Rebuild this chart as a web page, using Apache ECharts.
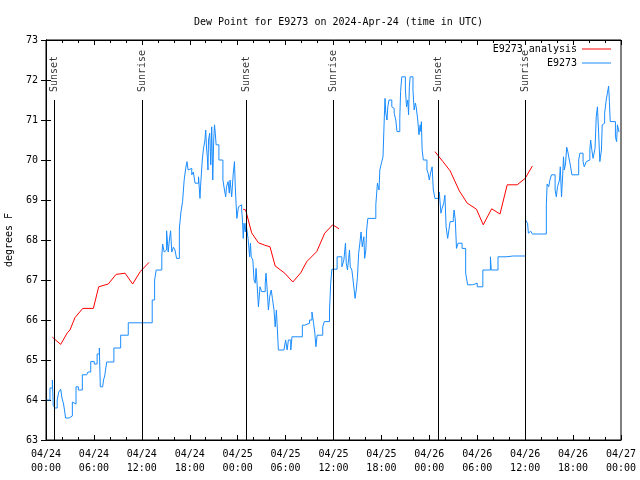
<!DOCTYPE html>
<html><head><meta charset="utf-8">
<script src="https://cdn.jsdelivr.net/npm/echarts@6/dist/echarts.min.js"></script>
<style>html,body{margin:0;padding:0;background:#fff}#c{width:640px;height:480px}</style>
</head><body><div id="c"></div>
<script>
// hours since 2024-04-24 00:00 UTC
var obsTimes = [0.1,0.5,0.8,0.9,1.1,1.4,1.6,1.84,2.0,2.2,2.35,2.45,2.9,3.3,3.45,3.76,4.05,4.55,5.1,5.25,5.6,6.05,6.4,6.68,6.8,7.1,7.2,7.35,7.6,8.5,9.35,10.3,13.3,13.6,13.8,14.5,14.6,14.8,15.0,15.1,15.3,15.45,15.6,15.75,15.95,16.15,16.35,16.7,16.9,17.1,17.3,17.5,17.65,17.8,18.0,18.25,18.45,18.66,19.1,19.28,19.35,19.57,19.7,19.9,20.0,20.1,20.2,20.28,20.35,20.5,20.63,20.75,20.88,21.0,21.1,21.2,21.3,21.65,22.15,22.35,22.5,22.6,22.8,22.95,23.05,23.25,23.45,23.6,23.7,23.8,23.9,24.1,24.35,24.5,24.6,24.7,24.8,24.95,25.05,25.15,25.3,25.5,25.6,25.7,25.9,26.05,26.2,26.3,26.4,26.6,26.8,27.0,27.45,27.55,27.7,27.85,28.0,28.2,28.35,28.55,28.7,28.85,29.1,29.8,30.0,30.2,30.35,30.65,30.8,32.1,32.4,33.0,33.3,33.5,33.65,33.8,33.95,34.65,34.85,35.5,35.65,35.8,36.45,37.05,37.3,37.5,37.6,37.75,37.9,38.0,38.1,38.3,38.45,38.7,38.85,39.0,39.15,39.3,39.45,39.6,39.8,39.9,40.05,40.15,40.3,41.3,41.5,41.7,41.8,42.0,42.2,42.35,42.45,42.55,42.7,42.8,42.95,43.3,43.5,43.6,43.8,43.95,44.3,44.4,44.55,45.0,45.15,45.3,45.4,45.5,45.6,45.95,46.1,46.25,46.35,46.55,46.7,46.85,46.95,47.0,47.1,47.25,47.7,47.85,48.0,48.15,48.35,48.5,48.7,49.25,49.45,49.6,49.8,49.95,50.1,50.3,50.45,50.6,51.0,51.1,51.25,51.4,51.6,52.1,52.55,52.8,53.4,53.5,54.0,54.7,55.65,55.75,56.6,57.6,58.5,58.65,60.05,60.3,60.4,60.55,60.7,60.9,62.65,62.75,62.95,63.1,63.3,63.75,63.9,64.05,64.3,64.4,64.55,64.7,64.8,64.9,65.05,65.2,65.35,65.45,65.65,65.85,66.7,66.85,67.25,67.4,67.65,67.85,68.1,68.2,68.35,68.5,68.75,68.9,69.05,69.2,69.35,69.55,69.65,69.85,69.95,70.15,70.3,70.45,70.55,70.65,71.3,71.45,71.55,71.75];
var obsValues = [64.0,64.3,64.5,63.87,63.8,64.0,64.2,64.27,64.05,63.9,63.7,63.55,63.6,63.95,63.9,64.33,64.25,64.63,64.6,64.7,64.96,64.9,65.15,65.3,64.33,64.33,64.5,64.6,64.95,65.3,65.62,65.93,66.5,67.0,67.25,67.6,67.9,67.7,67.75,68.23,67.7,68.0,68.23,67.7,67.82,67.75,67.54,68.3,68.7,68.96,69.5,69.8,69.96,69.75,69.79,69.63,69.7,69.42,69.58,69.04,69.33,70.0,70.25,70.5,70.75,70.3,70.08,69.75,70.5,70.67,69.88,70.83,69.5,70.5,70.88,70.67,70.38,70.0,69.5,69.25,69.08,69.33,69.46,69.17,69.5,69.08,69.67,69.96,69.33,68.92,68.54,68.83,68.88,68.75,68.5,68.04,68.42,68.2,68.42,68.25,68.04,67.58,67.92,67.58,67.5,67.0,66.92,67.29,67.0,66.33,66.83,66.71,66.92,67.17,66.75,66.25,66.58,66.75,66.54,66.25,65.83,66.25,65.25,65.3,65.5,65.25,65.5,65.25,65.58,65.87,65.92,66.0,66.2,65.92,65.7,65.33,65.62,65.83,65.96,66.25,66.92,67.27,67.58,67.33,67.5,67.92,67.42,67.25,67.54,67.75,67.33,67.25,67.0,66.54,66.75,67.08,67.67,67.92,68.2,67.83,68.08,67.54,67.75,68.25,68.54,68.88,69.42,69.25,69.75,69.92,70.08,71.0,71.54,71.17,71.0,71.33,71.5,71.33,71.29,71.17,71.0,70.71,71.04,71.71,72.08,71.75,71.33,71.5,71.13,71.83,72.08,71.75,71.25,71.42,71.33,71.0,70.63,70.88,70.71,70.96,70.25,70.0,69.75,69.67,69.5,69.67,69.83,69.25,69.04,69.2,68.67,68.79,68.92,69.12,68.33,68.04,68.25,68.46,68.54,68.75,68.5,67.79,67.92,67.79,67.17,66.88,66.83,66.92,66.83,67.25,67.58,67.25,67.58,67.6,67.55,67.6,68.5,68.42,68.17,68.22,68.25,68.15,68.88,69.4,69.33,69.5,69.63,69.25,69.08,69.33,69.5,69.83,69.08,69.63,70.08,69.75,69.9,70.32,70.2,70.08,69.88,69.63,70.0,70.17,69.96,69.83,69.96,70.0,70.25,70.5,70.25,70.04,70.29,71.08,71.33,70.67,69.96,70.25,70.88,70.92,71.17,71.5,71.67,71.85,71.46,70.96,70.58,70.46,70.88,70.7];

var analysisTimes1 = [0.8,1.84,2.67,3.0,3.63,4.6,5.93,6.6,7.8,8.77,9.9,10.85,11.8,12.9];
var analysisValues1 = [65.57,65.39,65.68,65.75,66.06,66.29,66.29,66.83,66.9,67.14,67.17,66.9,67.21,67.44];
var analysisTimes2 = [24.7,25.0,25.75,26.6,27.4,28.05,28.7,29.9,30.9,31.9,32.65,33.9,34.9,35.9,36.7];
var analysisValues2 = [68.77,68.75,68.18,67.93,67.87,67.83,67.35,67.17,66.95,67.18,67.46,67.71,68.17,68.38,68.28];
var analysisTimes3 = [48.7,49.7,50.6,51.75,52.75,53.9,54.75,55.8,56.85,57.75,59.0,60.0,60.9];
var analysisValues3 = [70.21,69.96,69.73,69.23,68.92,68.77,68.38,68.78,68.65,69.38,69.38,69.54,69.85];

var sunTimes = [1.05,12.1,25.05,35.95,49.1,60.0];
var sunLabels = ['Sunset','Sunrise','Sunset','Sunrise','Sunset','Sunrise'];

var FONT = '"DejaVu Sans Mono", monospace';
var SUN_TOP = 71.5;

function zip(t, v){ return t.map(function(x,i){ return [x, v[i]]; }); }
var obsData = zip(obsTimes, obsValues);
var anaData = zip(analysisTimes1, analysisValues1)
  .concat([[18, null]])
  .concat(zip(analysisTimes2, analysisValues2))
  .concat([[42, null]])
  .concat(zip(analysisTimes3, analysisValues3));

function xLabel(v){
  var d = 24 + Math.floor(v / 24);
  var h = v % 24;
  return '04/' + d + '\n' + (h < 10 ? '0' : '') + h + ':00';
}

var chart = echarts.init(document.getElementById('c'), null, {renderer:'canvas'});
chart.setOption({
  animation: false,
  backgroundColor: '#fff',
  title: { text: 'Dew Point for E9273 on 2024-Apr-24 (time in UTC)', left: 189, top: 12,
    textStyle: { fontFamily: FONT, fontSize: 10, fontWeight: 'normal', color: '#000' } },
  legend: [
    { data: ['E9273 analysis'], right: 29, top: 44, padding: 0, align: 'right', icon: 'rect', itemWidth: 29, itemHeight: 1,
      textStyle: { fontFamily: FONT, fontSize: 10, color: '#000' } },
    { data: ['E9273'], right: 29, top: 58, padding: 0, align: 'right', icon: 'rect', itemWidth: 29, itemHeight: 1,
      textStyle: { fontFamily: FONT, fontSize: 10, color: '#000' } }
  ],
  grid: { left: 46, right: 19, top: 40, bottom: 40, show: true, borderColor: '#000', borderWidth: 1,
    containLabel: false, outerBoundsMode: 'none' },
  xAxis: [
    { type: 'value', min: 0, max: 72, interval: 6, position: 'bottom',
      axisLine: { show: true, lineStyle: { color: '#000' } },
      axisTick: { show: true, inside: true, length: 5, lineStyle: { color: '#000' } },
      minorTick: { show: true, splitNumber: 3, length: 3, lineStyle: { color: '#000' } },
      splitLine: { show: false },
      axisLabel: { formatter: xLabel, fontFamily: FONT, fontSize: 10, color: '#000', lineHeight: 14, margin: 7, showMinLabel: true, showMaxLabel: true } },
    { type: 'value', min: 0, max: 72, interval: 6, position: 'top',
      axisLine: { show: true, lineStyle: { color: '#000' } },
      axisTick: { show: true, inside: true, length: 5, lineStyle: { color: '#000' } },
      minorTick: { show: true, splitNumber: 3, length: 3, lineStyle: { color: '#000' } },
      splitLine: { show: false }, axisLabel: { show: false } }
  ],
  yAxis: [
    { type: 'value', min: 63, max: 73, interval: 1, position: 'left',
      name: 'degrees F', nameLocation: 'middle', nameGap: 32, nameRotate: 90,
      nameTextStyle: { fontFamily: FONT, fontSize: 10, color: '#000' },
      axisLine: { show: true, lineStyle: { color: '#000' } },
      axisTick: { show: true, inside: true, length: 5, lineStyle: { color: '#000' } },
      splitLine: { show: false },
      axisLabel: { fontFamily: FONT, fontSize: 10, color: '#000', margin: 8 } },
    { type: 'value', min: 63, max: 73, interval: 1, position: 'right',
      axisLine: { show: true, lineStyle: { color: '#000' } },
      axisTick: { show: true, inside: true, length: 5, lineStyle: { color: '#000' } },
      splitLine: { show: false }, axisLabel: { show: false } }
  ],
  series: [
    { name: 'E9273 analysis', type: 'line', data: anaData, symbol: 'none', connectNulls: false,
      lineStyle: { color: '#ff0000', width: 1 }, itemStyle: { color: '#ff0000' }, z: 3 },
    { name: 'E9273', type: 'line', data: obsData, symbol: 'none', step: 'end',
      lineStyle: { color: '#1a8cff', width: 1 }, itemStyle: { color: '#1a8cff' }, z: 2,
      markLine: { silent: true, symbol: 'none', animation: false,
        lineStyle: { color: '#000', width: 1, type: 'solid' }, label: { show: false },
        data: sunTimes.map(function(h){ return [{ coord: [h, 63] }, { coord: [h, SUN_TOP] }]; }) } },
    { name: 'sun', type: 'scatter', symbolSize: 0, silent: true,
      data: sunTimes.map(function(h){ return [h, SUN_TOP]; }),
      label: { show: true, position: 'top', distance: 8, rotate: 90, align: 'left', verticalAlign: 'middle',
        fontFamily: FONT, fontSize: 10, color: '#000',
        formatter: function(p){ return sunLabels[p.dataIndex]; } } }
  ]
});
</script></body></html>
